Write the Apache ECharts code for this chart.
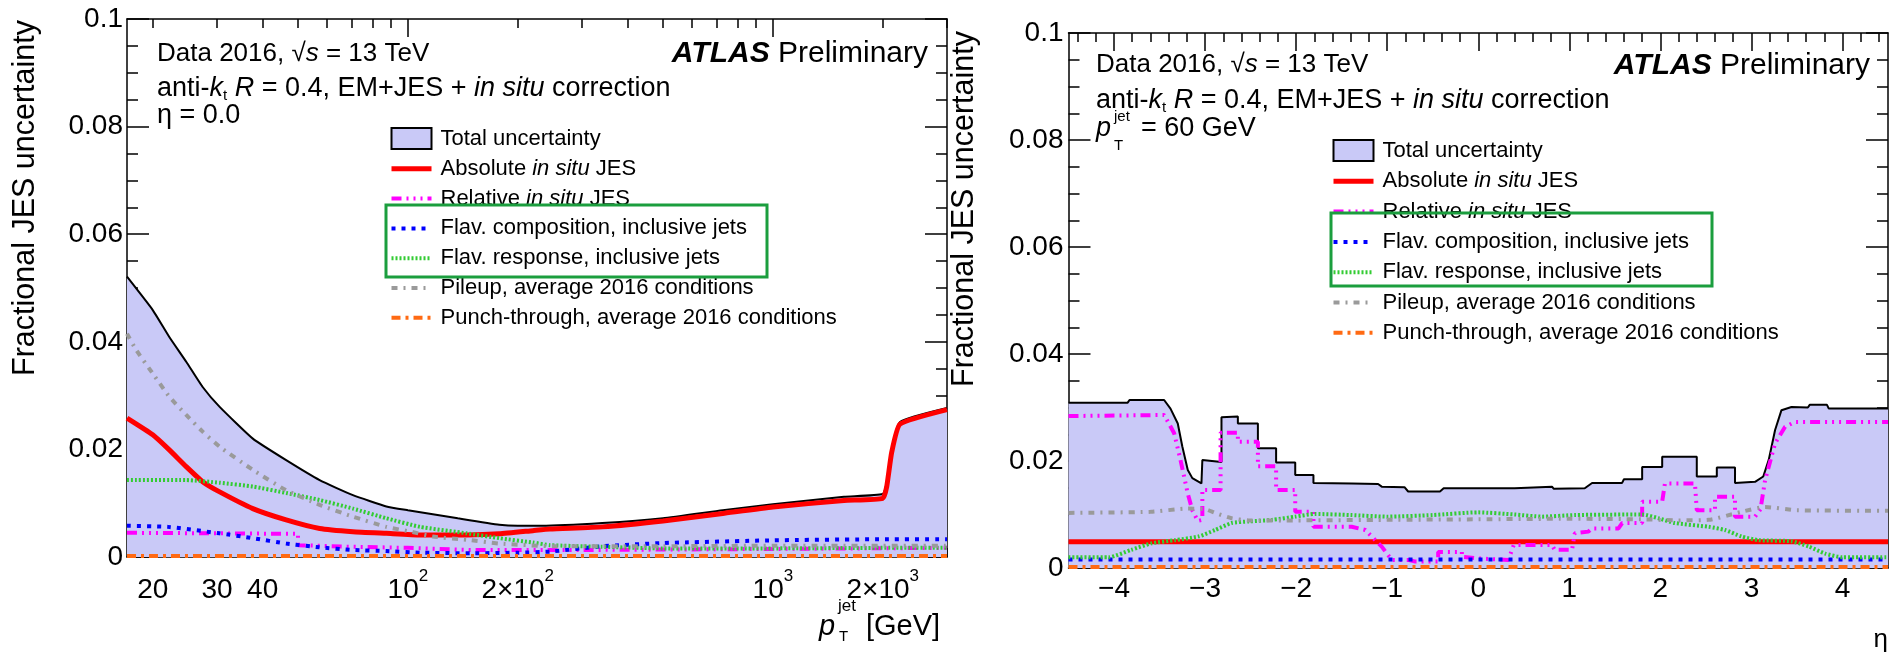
<!DOCTYPE html>
<html><head><meta charset="utf-8">
<script src="https://cdn.jsdelivr.net/npm/echarts@6/dist/echarts.min.js"></script>
<style>html,body{margin:0;padding:0;background:#fff}#c{width:1890px;height:658px}</style>
</head><body><div id="c"></div>
<script>
// ===== Left panel: fractional JES uncertainty vs pT (eta = 0.0) =====
const ptTotal = [[17,0.0521],[20,0.0459],[22.2,0.0409],[24.7,0.0363],[27.4,0.0316],[30.5,0.0279],[37.6,0.0220],[46.4,0.0180],[57.3,0.0143],[70.7,0.0115],[87.3,0.0094],[100,0.0087],[137,0.0072],[178,0.0060],[200,0.0058],[232,0.0058],[341,0.0063],[500,0.0072],[729,0.0087],[1000,0.0098],[1566,0.0112],[2000,0.0117],[2050,0.0138],[2117,0.0200],[2230,0.0251],[3000,0.0277]];
const ptAbsolute = [[17,0.0258],[20,0.0227],[22.2,0.0199],[24.7,0.0168],[27.4,0.0140],[30.5,0.0121],[37.6,0.0090],[46.4,0.0069],[57.3,0.0053],[70.7,0.0047],[87.3,0.0044],[108,0.0041],[145,0.0041],[178,0.0043],[220,0.0049],[245,0.0052],[341,0.0056],[500,0.0067],[729,0.0081],[1000,0.0093],[1566,0.0105],[2000,0.0109],[2050,0.0130],[2117,0.0195],[2230,0.0247],[3000,0.0274]];
const ptRelative = [[17,0.0045],[30,0.0044],[50,0.0043],[50,0.0022],[70,0.0019],[100,0.0017],[150,0.0013],[300,0.0013],[1000,0.0015],[3000,0.0017]];
const ptFlavComp = [[17,0.0058],[22,0.0056],[30.5,0.0044],[37.6,0.0035],[46.4,0.0025],[57.3,0.0018],[70.7,0.0013],[87.3,0.0011],[108,0.0008],[150,0.0007],[200,0.0008],[245,0.0010],[341,0.0020],[500,0.0026],[1000,0.0031],[2000,0.0033],[3000,0.0033]];
const ptFlavResp = [[17,0.0143],[24.7,0.0143],[30.5,0.0138],[37.6,0.0131],[46.4,0.0119],[57.3,0.0106],[70.7,0.0090],[87.3,0.0072],[108,0.0056],[145,0.0044],[178,0.0035],[220,0.0027],[245,0.0022],[341,0.0019],[500,0.0016],[1000,0.0016],[2000,0.0017],[3000,0.0017]];
const ptPileup = [[17,0.0415],[18,0.0385],[20,0.0341],[22.2,0.0298],[24.7,0.0264],[27.4,0.0233],[30.5,0.0205],[37.6,0.0162],[46.4,0.0124],[57.3,0.0097],[70.7,0.0075],[87.3,0.0056],[102,0.0047],[117,0.0038],[145,0.0032],[178,0.0025],[250,0.0020],[500,0.0020],[1000,0.0021],[3000,0.0021]];
const ptPunch = [[17,0.0002],[3000,0.0002]];

// ===== Right panel: fractional JES uncertainty vs eta (pT = 60 GeV) =====
const etaTotal = [[-4.5,0.0309],[-3.85,0.0309],[-3.83,0.0314],[-3.45,0.0314],[-3.43,0.0312],[-3.38,0.0298],[-3.30,0.0270],[-3.25,0.0227],[-3.19,0.0183],[-3.14,0.0168],[-3.04,0.0158],[-3.03,0.0202],[-2.82,0.0198],[-2.82,0.0282],[-2.64,0.0283],[-2.64,0.0270],[-2.42,0.0270],[-2.42,0.0224],[-2.22,0.0224],[-2.22,0.0197],[-2.01,0.0197],[-2.01,0.0174],[-1.81,0.0174],[-1.81,0.0159],[-1.39,0.0158],[-1.10,0.0157],[-1.06,0.0152],[-0.81,0.0151],[-0.77,0.0143],[-0.42,0.0143],[-0.38,0.0149],[0.0,0.0149],[0.40,0.0149],[0.42,0.0152],[0.81,0.0152],[0.83,0.0148],[1.17,0.0149],[1.25,0.0159],[1.58,0.0159],[1.60,0.0166],[1.80,0.0166],[1.80,0.0189],[2.02,0.0189],[2.02,0.0208],[2.40,0.0208],[2.40,0.0171],[2.62,0.0171],[2.62,0.0188],[2.82,0.0188],[2.82,0.0159],[3.04,0.0161],[3.13,0.0171],[3.19,0.0202],[3.26,0.0258],[3.33,0.0295],[3.44,0.0301],[3.62,0.0300],[3.64,0.0305],[3.83,0.0305],[3.85,0.0298],[4.5,0.0298]];
const etaAbsolute = [[-4.5,0.0049],[4.5,0.0049]];
const etaRelative = [[-4.5,0.0284],[-3.45,0.0286],[-3.41,0.0274],[-3.34,0.0252],[-3.27,0.0202],[-3.19,0.0139],[-3.14,0.0108],[-3.08,0.0088],[-3.03,0.0090],[-3.03,0.0146],[-2.83,0.0146],[-2.83,0.0253],[-2.64,0.0253],[-2.64,0.0236],[-2.42,0.0236],[-2.42,0.0190],[-2.22,0.0190],[-2.22,0.0146],[-2.01,0.0146],[-2.01,0.0105],[-1.81,0.0105],[-1.81,0.0077],[-1.39,0.0077],[-1.24,0.0071],[-1.06,0.0040],[-0.95,0.0015],[-0.76,0.0015],[-0.69,0.0012],[-0.44,0.0012],[-0.44,0.0030],[-0.18,0.0030],[-0.18,0.0021],[0.0,0.0018],[0.33,0.0015],[0.39,0.0043],[0.81,0.0043],[0.84,0.0034],[1.03,0.0034],[1.06,0.0065],[1.21,0.0068],[1.25,0.0074],[1.54,0.0074],[1.58,0.0084],[1.80,0.0084],[1.80,0.0124],[2.02,0.0124],[2.05,0.0158],[2.38,0.0158],[2.40,0.0108],[2.60,0.0108],[2.60,0.0133],[2.82,0.0133],[2.82,0.0096],[3.04,0.0096],[3.10,0.0110],[3.15,0.0164],[3.26,0.0233],[3.37,0.0264],[3.48,0.0273],[4.5,0.0273]];
const etaFlavComp = [[-4.5,0.0016],[4.5,0.0016]];
const etaFlavResp = [[-4.5,0.0020],[-4.06,0.0020],[-3.81,0.0034],[-3.59,0.0046],[-3.33,0.0052],[-3.07,0.0059],[-2.89,0.0071],[-2.71,0.0084],[-2.52,0.0087],[-2.26,0.0090],[-2.01,0.0096],[-1.79,0.0101],[-1.4,0.0099],[-1.0,0.0096],[-0.5,0.0099],[0.0,0.0104],[0.4,0.0100],[0.7,0.0096],[1.06,0.0099],[1.8,0.0100],[1.98,0.0093],[2.16,0.0084],[2.53,0.0077],[2.71,0.0071],[2.89,0.0059],[3.08,0.0052],[3.44,0.0050],[3.63,0.0040],[3.81,0.0027],[4.0,0.0020],[4.5,0.0020]];
const etaPileup = [[-4.5,0.0103],[-3.6,0.0105],[-3.2,0.0111],[-3.0,0.0110],[-2.89,0.0103],[-2.71,0.0093],[-2.52,0.0089],[-2.0,0.0089],[-1.0,0.0090],[0.0,0.0091],[1.0,0.0092],[1.8,0.0091],[2.2,0.0089],[2.53,0.0090],[2.89,0.0105],[3.15,0.0114],[3.5,0.0108],[4.5,0.0107]];
const etaPunch = [[-4.5,0.0002],[4.5,0.0002]];

// ===== Axis ticks and labels =====
const ptLabelValues = [20,30,40,100,200,1000,2000];
const ptLabelTexts = ['20','30','40','10^2','2×10^2','10^3','2×10^3'];
const ptMajorTicks = [100,1000];
const ptMinorTicks = [20,30,40,50,60,70,80,90,200,300,400,500,600,700,800,900,2000,3000];
const etaLabelValues = [-4,-3,-2,-1,0,1,2,3,4];
const etaMinorTicks = [-4.4,-4.2,-3.8,-3.6,-3.4,-3.2,-2.8,-2.6,-2.4,-2.2,-1.8,-1.6,-1.4,-1.2,-0.8,-0.6,-0.4,-0.2,0.2,0.4,0.6,0.8,1.2,1.4,1.6,1.8,2.2,2.4,2.6,2.8,3.2,3.4,3.6,3.8,4.2,4.4];
const legendNames = ['Total uncertainty','Absolute in situ JES','Relative in situ JES','Flav. composition, inclusive jets','Flav. response, inclusive jets','Pileup, average 2016 conditions','Punch-through, average 2016 conditions'];

// ===== Styles =====
const FONT = '"Liberation Sans", Arial, Helvetica, sans-serif';
const FILL = '#c9c9f7';
const STY = {
  total: {color:'#000000', width:2, type:'solid'},
  abs:   {color:'#ff0000', width:5, type:'solid'},
  rel:   {color:'#ff00ff', width:4, type:[10,5,2,5,2,5,2,5]},
  comp:  {color:'#0000ff', width:4, type:[4,6]},
  resp:  {color:'#33cc33', width:4, type:[2,2]},
  pile:  {color:'#9a9a9a', width:4, type:[6,6,2,6]},
  punch: {color:'#ff6a13', width:4, type:[9,5,3,5]}
};

const chart = echarts.init(document.getElementById('c'), null, {renderer:'canvas'});
const AX = {color:'#000', width:1.5};

function ptFmt(v){
  let idx = -1;
  ptLabelValues.forEach((t,i)=>{ if (Math.abs(t-v)/t < 1e-6) idx = i; });
  if (idx < 0) return '';
  const s = ptLabelTexts[idx].split('^');
  return s.length > 1 ? '{b|'+s[0]+'}{s|'+s[1]+'}' : '{b|'+s[0]+'}';
}
const tickRich = {
  b:{fontSize:28, fontFamily:FONT, color:'#000', lineHeight:36, verticalAlign:'bottom'},
  s:{fontSize:17, fontFamily:FONT, color:'#000', lineHeight:28, verticalAlign:'top'}
};

function logX(pos, ticks, len, labels, line){
  return {gridIndex:0, type:'log', logBase:10, min:17, max:3000, position:pos,
    axisLine:{show:line, onZero:false, lineStyle:AX},
    axisTick:{show:true, inside:true, length:len, customValues:ticks, lineStyle:AX},
    axisLabel:labels ? {show:true, customValues:ptLabelValues, formatter:ptFmt, margin:11, rich:tickRich} : {show:false},
    splitLine:{show:false}, minorTick:{show:false}};
}
function etaX(pos, ticks, len, labels, line){
  return {gridIndex:1, type:'value', min:-4.5, max:4.5, position:pos,
    axisLine:{show:line, onZero:false, lineStyle:AX},
    axisTick:{show:true, inside:true, length:len, customValues:ticks, lineStyle:AX},
    axisLabel:labels ? {show:true, customValues:etaLabelValues, margin:6,
      formatter:v => (v < 0 ? '\u2212' : '') + Math.abs(v),
      fontSize:28, fontFamily:FONT, color:'#000', lineHeight:30} : {show:false},
    splitLine:{show:false}, minorTick:{show:false}};
}
function yAx(grid, pos, labels, margin){
  return {gridIndex:grid, type:'value', min:0, max:0.1, interval:0.02, position:pos,
    axisLine:{show:true, onZero:false, lineStyle:AX},
    axisTick:{show:true, inside:true, length:22, lineStyle:AX},
    minorTick:{show:true, splitNumber:4, length:11, lineStyle:AX},
    axisLabel:labels ? {show:true, margin:margin, fontSize:28, fontFamily:FONT, color:'#000'} : {show:false},
    splitLine:{show:false}, minorSplitLine:{show:false}};
}

function lineSeries(name, data, sty, xi, yi, z, area, smooth){
  const s = {type:'line', name:name, data:data, xAxisIndex:xi, yAxisIndex:yi,
    symbol:'none', showSymbol:false, smooth:smooth || false, z:z, silent:true,
    lineStyle:{color:sty.color, width:sty.width, type:sty.type},
    itemStyle:{color:sty.color}};
  if (area) s.areaStyle = {color:FILL, opacity:1};
  return s;
}
function panelSeries(xi, yi, d, sm){
  return [
    lineSeries(legendNames[0], d[0], STY.total, xi, yi, 2, true, sm[0]),
    lineSeries(legendNames[1], d[1], STY.abs, xi, yi, 3, false, sm[1]),
    lineSeries(legendNames[2], d[2], STY.rel, xi, yi, 4, false, sm[2]),
    lineSeries(legendNames[3], d[3], STY.comp, xi, yi, 5, false, sm[3]),
    lineSeries(legendNames[4], d[4], STY.resp, xi, yi, 6, false, sm[4]),
    lineSeries(legendNames[5], d[5], STY.pile, xi, yi, 7, false, sm[5]),
    lineSeries(legendNames[6], d[6], STY.punch, xi, yi, 8, false, sm[6])
  ];
}

function legendFmt(name){
  const p = name.split('in situ');
  if (p.length > 1) return '{n|'+p[0]+'}{i|in situ}{n|'+p[1]+'}';
  return '{n|'+name+'}';
}
function legend(left, top, gap){
  return {left:left, top:top, orient:'vertical', padding:0, itemWidth:40, itemHeight:21, itemGap:gap,
    selectedMode:false, formatter:legendFmt,
    lineStyle:{width:'inherit'},
    textStyle:{fontSize:22, fontFamily:FONT, color:'#000', lineHeight:22, padding:[0,0,0,4],
      rich:{n:{fontSize:22, fontFamily:FONT, color:'#000', lineHeight:22},
            i:{fontSize:22, fontFamily:FONT, fontStyle:'italic', color:'#000', lineHeight:22}}},
    data:[{name:legendNames[0], icon:'rect', itemStyle:{color:FILL, borderColor:'#000', borderWidth:2, opacity:1}}]
      .concat(legendNames.slice(1).map(n => ({name:n, itemStyle:{opacity:0}})))};
}

const annRich = {
  n:{fontSize:27, fontFamily:FONT, color:'#000', lineHeight:30},
  d:{fontSize:26, fontFamily:FONT, color:'#000', lineHeight:30},
  di:{fontSize:26, fontFamily:FONT, fontStyle:'italic', color:'#000', lineHeight:30},
  i:{fontSize:27, fontFamily:FONT, fontStyle:'italic', color:'#000', lineHeight:30},
  sb:{fontSize:15, fontFamily:FONT, color:'#000', lineHeight:12, verticalAlign:'bottom'},
  a:{fontSize:30, fontFamily:FONT, fontWeight:'bold', fontStyle:'italic', color:'#000', lineHeight:32},
  p:{fontSize:30, fontFamily:FONT, color:'#000', lineHeight:32}
};
function txt(x, y, text, align){
  return {type:'text', x:x, y:y, z:50, silent:true,
    style:{text:text, rich:annRich, align:align || 'left', verticalAlign:'middle', fill:'#000',
      fontSize:27, fontFamily:FONT}};
}
function plain(x, y, text, size, italic, align, rot){
  const e = {type:'text', x:x, y:y, z:50, silent:true,
    style:{text:text, fontSize:size, fontFamily:FONT, fontStyle:italic ? 'italic' : 'normal',
      fill:'#000', align:align || 'left', verticalAlign:'middle'}};
  if (rot) e.rotation = rot;
  return e;
}

const dataText = '{d|Data 2016, \u221A}{di|s}{d| = 13 TeV}';
const algText = '{n|anti-}{i|k}{sb|t}{n| }{i|R}{n| = 0.4, EM+JES + }{i|in situ}{n| correction}';
const atlasText = '{a|ATLAS}{p| Preliminary}';

const option = {
  animation:false,
  backgroundColor:'#ffffff',
  grid:[
    {left:127, top:19, width:820, height:538},
    {left:1068.5, top:33, width:819.5, height:535}
  ],
  xAxis:[
    logX('bottom', ptMajorTicks, 18, true, true),
    logX('bottom', ptMinorTicks, 9, false, false),
    logX('top', ptMajorTicks, 18, false, true),
    logX('top', ptMinorTicks, 9, false, false),
    etaX('bottom', etaLabelValues, 18, true, true),
    etaX('bottom', etaMinorTicks, 9, false, false),
    etaX('top', etaLabelValues, 18, false, true),
    etaX('top', etaMinorTicks, 9, false, false)
  ],
  yAxis:[
    yAx(0, 'left', true, 4),
    yAx(0, 'right', false, 0),
    yAx(1, 'left', true, 5),
    yAx(1, 'right', false, 0)
  ],
  legend:[legend(389, 127, 7.8), legend(1331, 139, 8.3)],
  series: panelSeries(0, 0, [ptTotal, ptAbsolute, ptRelative, ptFlavComp, ptFlavResp, ptPileup, ptPunch], [0.15,0.15,false,0.15,0.15,0.15,false])
    .concat(panelSeries(4, 2, [etaTotal, etaAbsolute, etaRelative, etaFlavComp, etaFlavResp, etaPileup, etaPunch], [false,false,false,false,0.2,0.2,false])),
  graphic:[
    // left panel annotations
    txt(157, 53.5, dataText),
    txt(928, 54, atlasText, 'right'),
    txt(157, 88.5, algText),
    txt(157, 116, '{n|\u03B7 = 0.0}'),
    // right panel annotations
    txt(1096, 65, dataText),
    txt(1870, 66, atlasText, 'right'),
    txt(1096, 100.5, algText),
    plain(1096, 128.5, 'p', 27, true),
    plain(1114, 117, 'jet', 15, false),
    plain(1114, 146, 'T', 15, false),
    plain(1141, 128.5, '= 60 GeV', 27, false),
    // axis titles
    plain(26, 20, 'Fractional JES uncertainty', 30.5, false, 'right', Math.PI/2),
    plain(965, 31, 'Fractional JES uncertainty', 30.5, false, 'right', Math.PI/2),
    plain(819, 627, 'p', 29, true),
    plain(838, 606, 'jet', 17, false),
    plain(839, 637, 'T', 15, false),
    plain(866, 627, '[GeV]', 29, false),
    plain(1888, 640, '\u03B7', 26, false, 'right'),
    // highlight boxes
    {type:'rect', z:100, silent:true, shape:{x:386, y:205, width:381, height:72},
      style:{fill:'none', stroke:'#1b9e3e', lineWidth:3}},
    {type:'rect', z:100, silent:true, shape:{x:1331, y:213, width:381, height:73},
      style:{fill:'none', stroke:'#1b9e3e', lineWidth:3}}
  ]
};
chart.setOption(option);
</script>
</body></html>
